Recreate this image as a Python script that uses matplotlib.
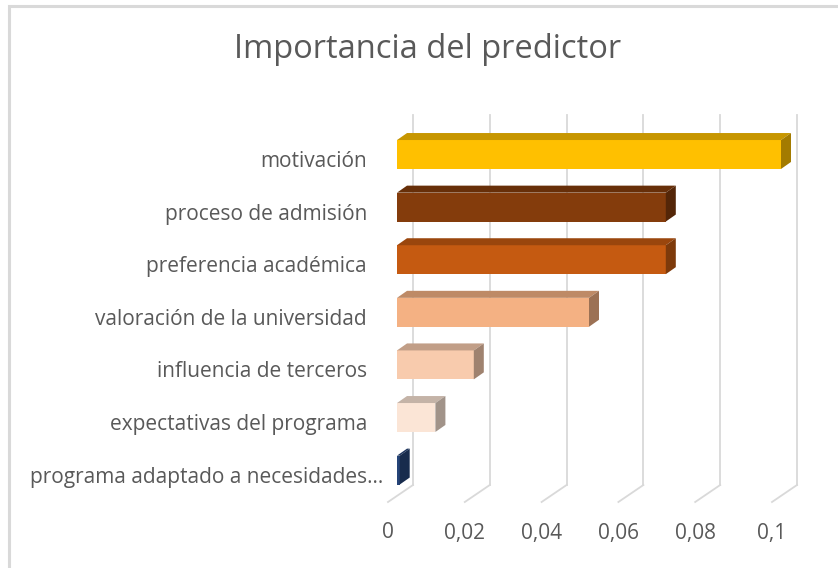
import matplotlib
matplotlib.use("Agg")
import matplotlib.pyplot as plt
import matplotlib.colors as mcolors
from matplotlib.patches import Polygon, Rectangle
from matplotlib.lines import Line2D
from matplotlib.transforms import IdentityTransform
import numpy as np

# ---- data ----
categories = ["motivación", "proceso de admisión", "preferencia académica",
              "valoración de la universidad", "influencia de terceros",
              "expectativas del programa", "programa adaptado a necesidades..."]
values = [0.100, 0.070, 0.070, 0.050, 0.020, 0.010, 0.0007]
bar_colors = ["#FFC000", "#843C0C", "#C55A11", "#F4B183", "#F8CBAD", "#FBE5D6", "#264478"]
xticks = [0, 0.02, 0.04, 0.06, 0.08, 0.1]
xtick_labels = ["0", "0,02", "0,04", "0,06", "0,08", "0,1"]
title = "Importancia del predictor"

W, H = 838, 568
DPI = 100
fig = plt.figure(figsize=(W / DPI, H / DPI), dpi=DPI)
fig.patch.set_facecolor("white")

FONT = ["Open Sans", "DejaVu Sans"]
TXT = "#595959"
GRID = "#D9D9D9"

# chart border (left & top visible)
fig.add_artist(Rectangle((9 / W, -0.1), 1.2, (H - 6) / H + 0.1, transform=fig.transFigure,
                         fill=False, edgecolor="#D9D9D9", linewidth=2.2, zorder=-5))

# axes representing the bar-front plane
px_left, px_right = 380, 800
px_top, px_bot = 115, 502
ax = fig.add_axes([px_left / W, 1 - px_bot / H, (px_right - px_left) / W, (px_bot - px_top) / H])
ax.set_axis_off()
ax.set_zorder(1)

x0_px, px_per_unit = 397, 3840.0
ax.set_xlim((px_left - x0_px) / px_per_unit, (px_right - x0_px) / px_per_unit)
y0_px, px_per_cat = 154.5, 52.6
ax.set_ylim((px_bot - y0_px) / px_per_cat, (px_top - y0_px) / px_per_cat)

ypos = np.arange(len(categories))
bh = 0.55

# depth offsets (display pixels; y up)
front_dx, front_dy = -9, -6      # floor front relative to bar plane
back_dx, back_dy = 16, 11        # back wall relative to bar plane
bar_dx, bar_dy = 10, 7           # bar depth

fig.canvas.draw()
tD = ax.transData
tA = ax.transAxes
ident = IdentityTransform()

y_front_floor = tA.transform((0, 0))[1]
y_top_wall = tA.transform((0, 1))[1]

# back wall gridlines and floor lines
for xv in xticks:
    xb = tD.transform((xv, 0))[0]
    fig.add_artist(Line2D([xb + back_dx, xb + back_dx],
                          [y_front_floor + (back_dy - front_dy), y_top_wall],
                          transform=ident, color=GRID, linewidth=1.3, zorder=-1))
    fig.add_artist(Line2D([xb + front_dx, xb + back_dx],
                          [y_front_floor, y_front_floor + (back_dy - front_dy)],
                          transform=ident, color=GRID, linewidth=1.3, zorder=-1))

for xv, lab in zip(xticks, xtick_labels):
    xd = tD.transform((xv, 0))[0] + front_dx
    yd = y_front_floor - 31
    fig.text(xd / W, yd / H, lab, ha="center", va="center", fontsize=15,
             color=TXT, family=FONT)


def shade(c, f):
    r, g, b = mcolors.to_rgb(c)
    return (r * f, g * f, b * f)

# bars: front faces
ax.barh(ypos, values, height=bh, color=bar_colors, edgecolor="none", zorder=3)

# top and side faces
for yi, v, c in zip(ypos, values, bar_colors):
    tl = tD.transform((0, yi - bh / 2))
    tr = tD.transform((v, yi - bh / 2))
    br = tD.transform((v, yi + bh / 2))
    top_poly = [tl, tr, (tr[0] + bar_dx, tr[1] + bar_dy), (tl[0] + bar_dx, tl[1] + bar_dy)]
    side_poly = [tr, br, (br[0] + bar_dx, br[1] + bar_dy), (tr[0] + bar_dx, tr[1] + bar_dy)]
    fig.add_artist(Polygon(top_poly, closed=True, transform=ident,
                           facecolor=shade(c, 0.78), edgecolor="none", zorder=4))
    fig.add_artist(Polygon(side_poly, closed=True, transform=ident,
                           facecolor=shade(c, 0.64), edgecolor="none", zorder=4))

# category labels (truncated label sits a little further right, as in Excel)
for yi, lab in zip(ypos, categories):
    extra = 16 if lab.endswith("...") else 0
    xd = tD.transform((0, yi))[0] - 30 + extra
    yd = tD.transform((0, yi))[1] - 7
    fig.text(xd / W, yd / H, lab, ha="right", va="center", fontsize=15,
             color=TXT, family=FONT)

fig.text(428 / W, 1 - 50 / H, title, ha="center", va="center", fontsize=23.5,
         color=TXT, family=FONT)

fig.savefig("out.png", dpi=DPI)
